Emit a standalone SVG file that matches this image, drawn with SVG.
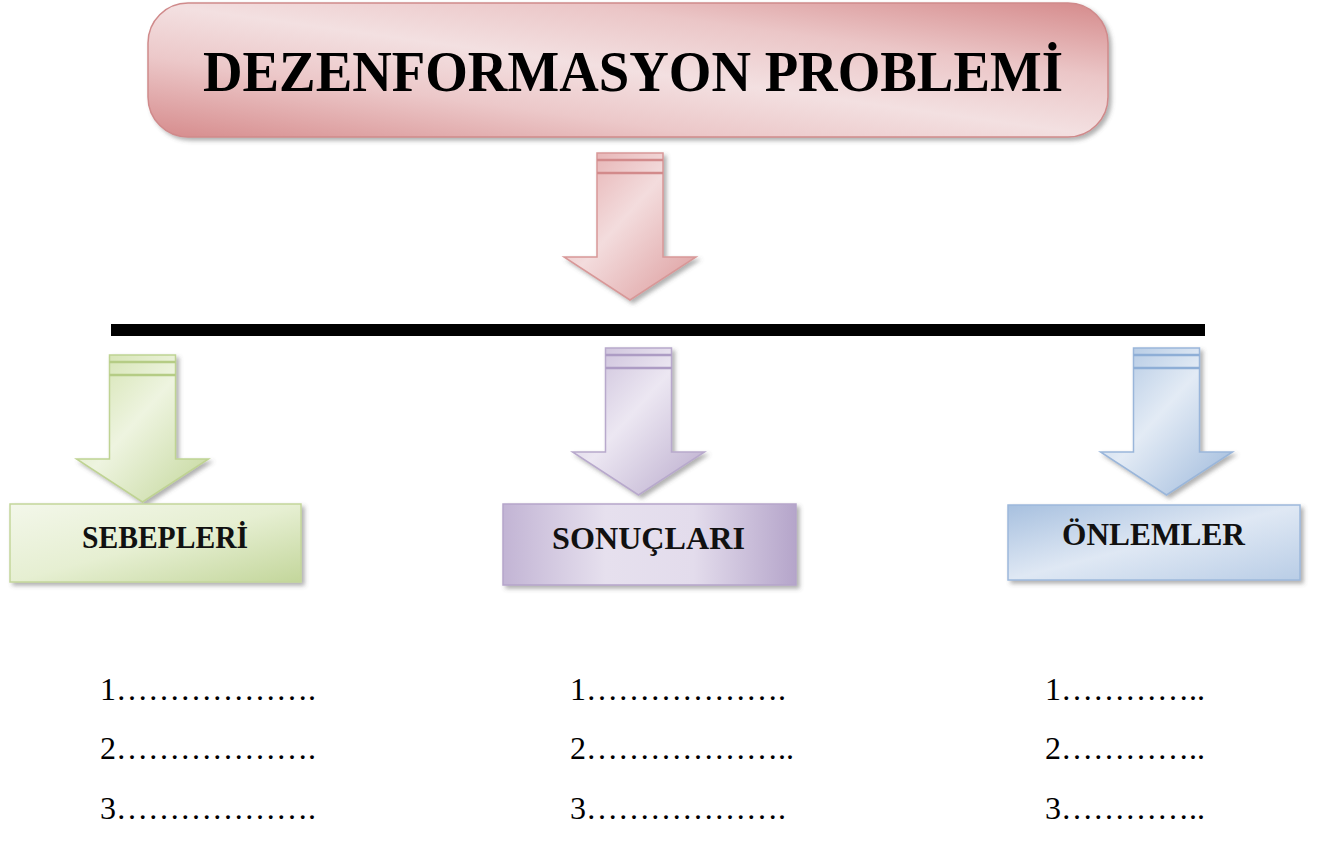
<svg xmlns="http://www.w3.org/2000/svg" xmlns:xlink="http://www.w3.org/1999/xlink" width="1321" height="858" viewBox="0 0 1321 858">
<style>
.title{font-family:"Liberation Serif","Times New Roman",serif;font-weight:bold;font-size:57px;fill:#000}
.lbl{font-family:"Liberation Serif","Times New Roman",serif;font-weight:bold;font-size:31px;fill:#111}
.item{font-family:"Liberation Serif","Times New Roman",serif;font-size:32px;fill:#000}
</style>
<defs>
<filter id="sh" x="-10%" y="-10%" width="125%" height="130%">
<feDropShadow dx="3" dy="3" stdDeviation="2" flood-color="#555" flood-opacity="0.45"/>
</filter>
<linearGradient id="gTitle" x1="0" y1="1" x2="1" y2="0">
<stop offset="0" stop-color="#d68b8c"/>
<stop offset="0.3" stop-color="#ecc8c9"/>
<stop offset="0.5" stop-color="#f3e0e1"/>
<stop offset="0.72" stop-color="#ebc6c7"/>
<stop offset="1" stop-color="#d58a8b"/>
</linearGradient>
<linearGradient id="gPink" x1="0" y1="0" x2="1" y2="1">
<stop offset="0" stop-color="#e3a8a9"/>
<stop offset="0.45" stop-color="#f3dcdd"/>
<stop offset="1" stop-color="#dc9a9b"/>
</linearGradient>
<linearGradient id="gGreen" x1="0" y1="0" x2="1" y2="1">
<stop offset="0" stop-color="#cfe0a8"/>
<stop offset="0.45" stop-color="#eef4e0"/>
<stop offset="1" stop-color="#c2d699"/>
</linearGradient>
<linearGradient id="gPurple" x1="0" y1="0" x2="1" y2="1">
<stop offset="0" stop-color="#c6b9d6"/>
<stop offset="0.45" stop-color="#ece7f2"/>
<stop offset="1" stop-color="#b9aacc"/>
</linearGradient>
<linearGradient id="gBlue" x1="0" y1="0" x2="1" y2="1">
<stop offset="0" stop-color="#a9c2e0"/>
<stop offset="0.45" stop-color="#e3ebf5"/>
<stop offset="1" stop-color="#9cb8db"/>
</linearGradient>
<linearGradient id="bGreen" x1="0" y1="0" x2="1" y2="1">
<stop offset="0" stop-color="#f3f7ea"/>
<stop offset="0.5" stop-color="#e6efd2"/>
<stop offset="1" stop-color="#c3d69b"/>
</linearGradient>
<linearGradient id="bPurple" x1="0" y1="0" x2="1" y2="0">
<stop offset="0" stop-color="#c2b4d4"/>
<stop offset="0.35" stop-color="#e6e0ee"/>
<stop offset="0.65" stop-color="#e3dcec"/>
<stop offset="1" stop-color="#b5a5ca"/>
</linearGradient>
<linearGradient id="bBlue" x1="0" y1="0" x2="1" y2="1">
<stop offset="0" stop-color="#a7c0df"/>
<stop offset="0.5" stop-color="#dfe8f4"/>
<stop offset="1" stop-color="#b9cde6"/>
</linearGradient>
<path id="arrow" d="M -33 0 H 33 V 104 H 66 L 0 147 L -66 104 H -33 Z"/>
</defs>

<g id="title">
<rect x="148" y="3" width="960" height="134" rx="40" ry="40" fill="url(#gTitle)" stroke="#d08a8b" stroke-width="1.5" filter="url(#sh)"/>
<text class="title" x="203" y="91" textLength="860" lengthAdjust="spacingAndGlyphs">DEZENFORMASYON PROBLEMİ</text>
</g>

<g id="connectors">
<g id="arrow-main" transform="translate(630,153)">
<use xlink:href="#arrow" href="#arrow" fill="url(#gPink)" stroke="#d89898" stroke-width="1.5" filter="url(#sh)"/>
<path d="M -33 7 H 33 M -33 20 H 33" stroke="#d28a8b" stroke-width="2.5" fill="none"/>
</g>
<line x1="111" y1="330" x2="1205" y2="330" stroke="#000" stroke-width="12"/>
<g id="arrow-green" transform="translate(142.5,355)">
<use xlink:href="#arrow" href="#arrow" fill="url(#gGreen)" stroke="#bfd393" stroke-width="1.5" filter="url(#sh)"/>
<path d="M -33 7 H 33 M -33 20 H 33" stroke="#b5cc85" stroke-width="2.5" fill="none"/>
</g>
<g id="arrow-purple" transform="translate(638.5,348)">
<use xlink:href="#arrow" href="#arrow" fill="url(#gPurple)" stroke="#b8a9cc" stroke-width="1.5" filter="url(#sh)"/>
<path d="M -33 7 H 33 M -33 20 H 33" stroke="#ad9cc4" stroke-width="2.5" fill="none"/>
</g>
<g id="arrow-blue" transform="translate(1166.5,348)">
<use xlink:href="#arrow" href="#arrow" fill="url(#gBlue)" stroke="#9ab6da" stroke-width="1.5" filter="url(#sh)"/>
<path d="M -33 7 H 33 M -33 20 H 33" stroke="#8eaed6" stroke-width="2.5" fill="none"/>
</g>
</g>

<g id="sebepleri">
<rect x="10" y="504" width="291" height="78" fill="url(#bGreen)" stroke="#c3d69b" stroke-width="1.5" filter="url(#sh)"/>
<text class="lbl" x="82" y="548" textLength="166" lengthAdjust="spacingAndGlyphs">SEBEPLERİ</text>
</g>
<g id="sonuclari">
<rect x="503" y="504" width="293" height="81" fill="url(#bPurple)" stroke="#b5a5ca" stroke-width="1.5" filter="url(#sh)"/>
<text class="lbl" x="552" y="549" textLength="193" lengthAdjust="spacingAndGlyphs">SONUÇLARI</text>
</g>
<g id="onlemler">
<rect x="1008" y="505" width="292" height="75" fill="url(#bBlue)" stroke="#9cb8db" stroke-width="1.5" filter="url(#sh)"/>
<text class="lbl" x="1062" y="545" textLength="183" lengthAdjust="spacingAndGlyphs">ÖNLEMLER</text>
</g>

<g id="list-sebepleri">
<text class="item" x="100" y="700">1……………….</text>
<text class="item" x="100" y="759">2……………….</text>
<text class="item" x="100" y="819">3……………….</text>
</g>
<g id="list-sonuclari">
<text class="item" x="570" y="700">1……………….</text>
<text class="item" x="570" y="759">2………………..</text>
<text class="item" x="570" y="819">3……………….</text>
</g>
<g id="list-onlemler">
<text class="item" x="1045" y="700">1…………..</text>
<text class="item" x="1045" y="759">2…………..</text>
<text class="item" x="1045" y="819">3…………..</text>
</g>
</svg>
